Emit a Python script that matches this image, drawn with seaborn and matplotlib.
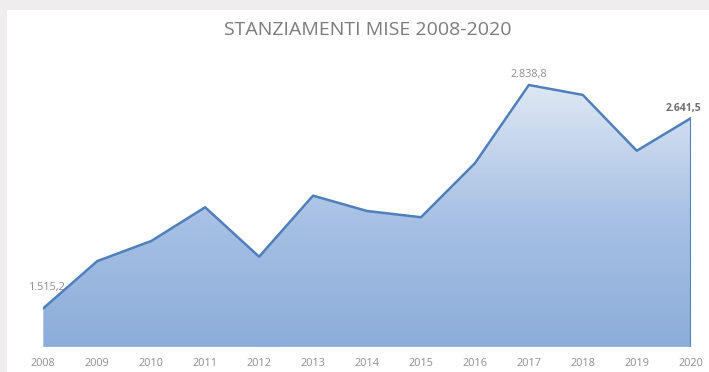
import numpy as np
import pandas as pd
import seaborn as sns
from matplotlib import pyplot as plt
from matplotlib.colors import LinearSegmentedColormap
from matplotlib.patches import Rectangle

# Stanziamenti MISE (milioni di euro)
YEARS = [2008, 2009, 2010, 2011, 2012, 2013, 2014, 2015, 2016, 2017, 2018, 2019, 2020]
VALUES = [1515.2, 1795, 1914, 2114, 1821, 2183, 2092, 2055, 2375, 2838.8, 2780, 2449, 2641.5]
LABELS = {2008: "1.515,2", 2017: "2.838,8", 2020: "2.641,5"}
TITLE = "STANZIAMENTI MISE 2008-2020"

Y_MIN, Y_MAX = 1284, 2900
LINE_COLOR = "#4f80bb"
TEXT_COLOR = "#8e8e8e"


def main():
    sns.set_theme(style="white")
    plt.rcParams["font.family"] = ["Open Sans", "DejaVu Sans"]

    df = pd.DataFrame({"anno": YEARS, "valore": VALUES})

    fig = plt.figure(figsize=(7.09, 3.72), dpi=100, facecolor="#efedee")
    # white card behind the chart
    fig.patches.append(Rectangle((7 / 709, 0), 1, 1 - 10 / 372, transform=fig.transFigure,
                                 facecolor="white", edgecolor="none", zorder=-10))

    ax = fig.add_axes([43.3 / 709, 24.7 / 372, (690.7 - 43.3) / 709, (Y_MAX - Y_MIN) * 0.1687 / 372])
    ax.set_facecolor("none")

    # gradient fill under the line, clipped to the area polygon
    poly = ax.fill_between(df["anno"], df["valore"], Y_MIN, facecolor="none", edgecolor="none")
    cmap = LinearSegmentedColormap.from_list("grad", ["#8badda", "#a8c1e4", "#dfe8f4"])
    grad = np.linspace(0, 1, 256).reshape(-1, 1)
    img = ax.imshow(grad, cmap=cmap, aspect="auto", origin="lower",
                    extent=[YEARS[0], YEARS[-1], Y_MIN, max(VALUES)], zorder=1)
    img.set_clip_path(poly.get_paths()[0], transform=ax.transData)

    sns.lineplot(data=df, x="anno", y="valore", ax=ax, color=LINE_COLOR, linewidth=1.8, zorder=3)
    ax.plot([YEARS[-1], YEARS[-1]], [Y_MIN, VALUES[-1]], color=LINE_COLOR, linewidth=1.5, zorder=3)
    ax.axhline(Y_MIN, color="#c4cfdc", linewidth=1, zorder=2)

    ax.set_xlim(YEARS[0], YEARS[-1])
    ax.set_ylim(Y_MIN, Y_MAX)
    ax.set_xticks(YEARS)
    ax.set_xticklabels([str(y) for y in YEARS], fontsize=7.8, color=TEXT_COLOR)
    ax.tick_params(axis="x", length=0, pad=8)
    ax.set_yticks([])
    ax.set_xlabel("")
    ax.set_ylabel("")
    for s in ax.spines.values():
        s.set_visible(False)

    # data labels
    ax.annotate(LABELS[2008], (2008, VALUES[0]), xytext=(3, 15), textcoords="offset points",
                ha="center", va="center", fontsize=7.8, color=TEXT_COLOR, zorder=2)
    ax.annotate(LABELS[2017], (2017, VALUES[9]), xytext=(0, 7.5), textcoords="offset points",
                ha="center", va="center", fontsize=7.8, color=TEXT_COLOR, zorder=4)
    ax.annotate(LABELS[2020], (2020, VALUES[-1]), xytext=(-5, 7), textcoords="offset points",
                ha="center", va="center", fontsize=7.5, color="#6e6e6e", fontweight="bold", zorder=4)

    fig.text(0.518, 1 - 30 / 372, TITLE, ha="center", va="center", fontsize=14, color="#7c7c7c")

    fig.savefig("out.png", dpi=100, facecolor=fig.get_facecolor())
    plt.close(fig)


if __name__ == "__main__":
    main()
